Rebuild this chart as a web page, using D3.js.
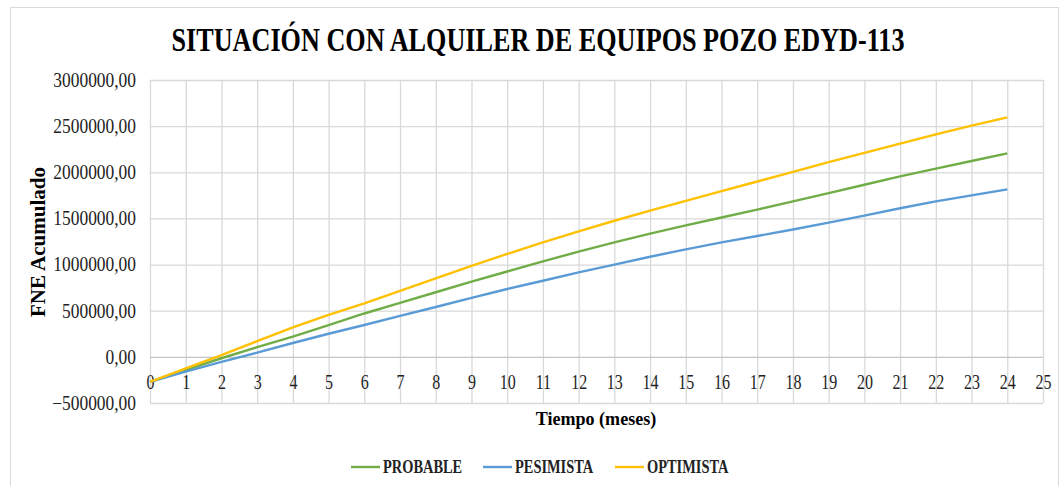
<!DOCTYPE html>
<html>
<head>
<meta charset="utf-8">
<script src="https://cdn.jsdelivr.net/npm/d3@7"></script>
<style>
  body { margin: 0; background: #fff; }
  svg { display: block; font-family: "Liberation Serif", "Times New Roman", serif; }
</style>
</head>
<body>
<svg width="1060" height="486"></svg>
<script>
// months 0..24
var months = d3.range(0, 25);
var probable  = [-270000, -140000, -15000, 105000, 220000, 345000, 470000, 585000, 700000, 815000, 925000, 1035000, 1140000, 1240000, 1335000, 1425000, 1510000, 1595000, 1685000, 1775000, 1865000, 1955000, 2040000, 2122000, 2205000];
var pesimista = [-270000, -160000, -55000, 45000, 150000, 250000, 345000, 445000, 540000, 640000, 735000, 825000, 915000, 1000000, 1085000, 1165000, 1240000, 1310000, 1380000, 1455000, 1530000, 1610000, 1685000, 1750000, 1815000];
var optimista = [-270000, -125000, 20000, 170000, 320000, 455000, 580000, 715000, 850000, 985000, 1115000, 1240000, 1360000, 1475000, 1585000, 1690000, 1795000, 1900000, 2005000, 2110000, 2210000, 2310000, 2410000, 2505000, 2595000];
var seriesNames = ["PROBABLE", "PESIMISTA", "OPTIMISTA"];
var seriesColors = ["#70AD47", "#5B9BD5", "#FFC000"];
var xTicks = d3.range(0, 26);
var yTicks = d3.range(-500000, 3000001, 500000);

var svg = d3.select("svg");

// squeeze text horizontally like the narrow Excel rendering
function squeeze(sel, k) {
    sel.each(function() {
        var w = this.getComputedTextLength();
        this.setAttribute("textLength", w * k);
        this.setAttribute("lengthAdjust", "spacingAndGlyphs");
    });
}

// chart border
svg.append("rect")
    .attr("x", 10.5).attr("y", 7.5)
    .attr("width", 1048).attr("height", 500)
    .attr("fill", "none").attr("stroke", "#d9d9d9");

var x = d3.scaleLinear().domain([0, 25]).range([150, 1043]);
var y = d3.scaleLinear().domain([-500000, 3000000]).range([403, 80]);

// grid
svg.append("g").selectAll("line").data(xTicks).enter().append("line")
    .attr("x1", d => x(d) + 0.5).attr("x2", d => x(d) + 0.5)
    .attr("y1", y(3000000)).attr("y2", y(-500000))
    .attr("stroke", "#d9d9d9").attr("stroke-width", 1.3);
svg.append("g").selectAll("line").data(yTicks).enter().append("line")
    .attr("x1", x(0)).attr("x2", x(25))
    .attr("y1", d => y(d) + 0.5).attr("y2", d => y(d) + 0.5)
    .attr("stroke", d => d === 0 ? "#c4c4c4" : "#d9d9d9").attr("stroke-width", 1.3);

// y axis labels
var yAxis = svg.append("g")
    .attr("transform", "translate(" + x(0) + ",0)")
    .call(d3.axisLeft(y).tickValues(yTicks).tickSize(0).tickPadding(14)
        .tickFormat(d => d3.format(".2f")(d).replace(".", ",")));
yAxis.select(".domain").remove();
yAxis.selectAll("text").attr("font-size", 20).attr("fill", "#222")
    .style("font-family", "Liberation Serif").call(squeeze, 0.87);

// x axis labels at zero line
var xAxis = svg.append("g")
    .attr("transform", "translate(0," + y(0) + ")")
    .call(d3.axisBottom(x).tickValues(xTicks).tickSize(0));
xAxis.select(".domain").remove();
xAxis.selectAll("text").attr("y", 18).attr("font-size", 20).attr("fill", "#222")
    .style("font-family", "Liberation Serif").call(squeeze, 0.8);

// lines
var line = d3.line().x((d, i) => x(months[i])).y(d => y(d));
[probable, pesimista, optimista].forEach(function(s, i) {
    svg.append("path").datum(s)
        .attr("d", line)
        .attr("fill", "none")
        .attr("stroke", seriesColors[i])
        .attr("stroke-width", 2.4)
        .attr("stroke-linejoin", "round");
});

// title
svg.append("text")
    .attr("x", 538).attr("y", 51)
    .attr("text-anchor", "middle")
    .attr("font-size", 34).attr("font-weight", "bold").attr("fill", "#000")
    .text("SITUACIÓN CON ALQUILER DE EQUIPOS POZO EDYD-113")
    .attr("textLength", 733).attr("lengthAdjust", "spacingAndGlyphs");

// axis titles
svg.append("text")
    .attr("transform", "translate(45,242) rotate(-90)")
    .attr("text-anchor", "middle")
    .attr("font-size", 21).attr("font-weight", "bold").attr("fill", "#000")
    .text("FNE Acumulado");

svg.append("text")
    .attr("x", 596).attr("y", 425)
    .attr("text-anchor", "middle")
    .attr("font-size", 19).attr("font-weight", "bold").attr("fill", "#000")
    .text("Tiempo (meses)").call(squeeze, 0.95);

// legend
var legendX = [351, 483, 615];
var legend = svg.append("g").selectAll("g").data(seriesNames).enter().append("g")
    .attr("transform", (d, i) => "translate(" + legendX[i] + ",467)");
legend.append("line")
    .attr("x1", 0).attr("x2", 29)
    .attr("stroke", (d, i) => seriesColors[i]).attr("stroke-width", 2.4);
legend.append("text")
    .attr("x", 32).attr("y", 6)
    .attr("font-size", 18).attr("font-weight", "bold").attr("fill", "#222")
    .text(d => d).call(squeeze, 0.8);
</script>
</body>
</html>
